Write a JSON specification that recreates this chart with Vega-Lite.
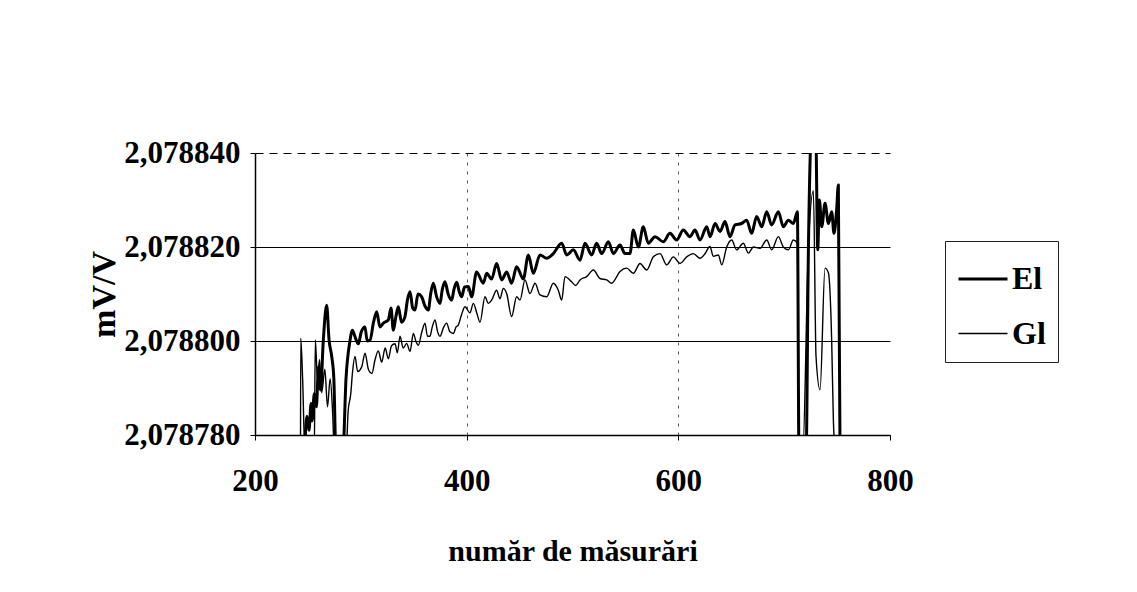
{
  "$schema": "https://vega.github.io/schema/vega-lite/v6.json",
  "autosize": {"type": "none"},
  "width": 635,
  "height": 282,
  "padding": {"left": 255, "top": 153, "right": 247, "bottom": 157},
  "background": "white",
  "data": {
    "values": [
      {"n": 247, "v": 2.078777, "s": "El"},
      {"n": 249, "v": 2.078784, "s": "El"},
      {"n": 251, "v": 2.078781, "s": "El"},
      {"n": 253, "v": 2.0787867, "s": "El"},
      {"n": 254, "v": 2.078783, "s": "El"},
      {"n": 256, "v": 2.0787888, "s": "El"},
      {"n": 258, "v": 2.078786, "s": "El"},
      {"n": 260, "v": 2.0787945, "s": "El"},
      {"n": 262, "v": 2.0787896, "s": "El"},
      {"n": 264.5, "v": 2.0788, "s": "El"},
      {"n": 267.7, "v": 2.0788076, "s": "El"},
      {"n": 270, "v": 2.0788002, "s": "El"},
      {"n": 272.5, "v": 2.0787967, "s": "El"},
      {"n": 274.5, "v": 2.078792, "s": "El"},
      {"n": 276.5, "v": 2.078776, "s": "El"},
      {"n": 283, "v": 2.078776, "s": "El"},
      {"n": 286, "v": 2.078792, "s": "El"},
      {"n": 289.7, "v": 2.0788, "s": "El"},
      {"n": 292, "v": 2.0788023, "s": "El"},
      {"n": 294.5, "v": 2.0788009, "s": "El"},
      {"n": 297.6, "v": 2.0787994, "s": "El"},
      {"n": 300.5, "v": 2.078802, "s": "El"},
      {"n": 303.9, "v": 2.078803, "s": "El"},
      {"n": 306, "v": 2.0788, "s": "El"},
      {"n": 308.7, "v": 2.0788002, "s": "El"},
      {"n": 312, "v": 2.078804, "s": "El"},
      {"n": 315, "v": 2.0788062, "s": "El"},
      {"n": 318, "v": 2.078803, "s": "El"},
      {"n": 321.3, "v": 2.0788038, "s": "El"},
      {"n": 326, "v": 2.0788045, "s": "El"},
      {"n": 328.5, "v": 2.078807, "s": "El"},
      {"n": 330.7, "v": 2.0788023, "s": "El"},
      {"n": 333, "v": 2.078805, "s": "El"},
      {"n": 335.4, "v": 2.0788073, "s": "El"},
      {"n": 338.5, "v": 2.078804, "s": "El"},
      {"n": 341.7, "v": 2.0788052, "s": "El"},
      {"n": 344, "v": 2.0788087, "s": "El"},
      {"n": 346.5, "v": 2.0788105, "s": "El"},
      {"n": 349, "v": 2.078807, "s": "El"},
      {"n": 351.2, "v": 2.0788066, "s": "El"},
      {"n": 354, "v": 2.07881, "s": "El"},
      {"n": 357.5, "v": 2.0788094, "s": "El"},
      {"n": 360.5, "v": 2.0788075, "s": "El"},
      {"n": 363.8, "v": 2.0788066, "s": "El"},
      {"n": 366, "v": 2.07881, "s": "El"},
      {"n": 368.5, "v": 2.0788123, "s": "El"},
      {"n": 371.5, "v": 2.0788095, "s": "El"},
      {"n": 374.8, "v": 2.078808, "s": "El"},
      {"n": 377, "v": 2.078811, "s": "El"},
      {"n": 379.5, "v": 2.0788126, "s": "El"},
      {"n": 382.5, "v": 2.07881, "s": "El"},
      {"n": 385.8, "v": 2.0788087, "s": "El"},
      {"n": 388, "v": 2.078811, "s": "El"},
      {"n": 390.6, "v": 2.0788125, "s": "El"},
      {"n": 393, "v": 2.0788105, "s": "El"},
      {"n": 395.3, "v": 2.0788094, "s": "El"},
      {"n": 398, "v": 2.0788115, "s": "El"},
      {"n": 401.6, "v": 2.0788116, "s": "El"},
      {"n": 404.7, "v": 2.0788094, "s": "El"},
      {"n": 409.4, "v": 2.0788147, "s": "El"},
      {"n": 415.7, "v": 2.0788123, "s": "El"},
      {"n": 418.9, "v": 2.0788144, "s": "El"},
      {"n": 423.6, "v": 2.0788132, "s": "El"},
      {"n": 428.3, "v": 2.0788165, "s": "El"},
      {"n": 433.1, "v": 2.078813, "s": "El"},
      {"n": 437.8, "v": 2.0788147, "s": "El"},
      {"n": 442.5, "v": 2.0788123, "s": "El"},
      {"n": 447.2, "v": 2.0788158, "s": "El"},
      {"n": 453.5, "v": 2.0788132, "s": "El"},
      {"n": 458.3, "v": 2.0788183, "s": "El"},
      {"n": 463, "v": 2.0788144, "s": "El"},
      {"n": 469.3, "v": 2.0788183, "s": "El"},
      {"n": 475.6, "v": 2.0788176, "s": "El"},
      {"n": 481.9, "v": 2.0788186, "s": "El"},
      {"n": 489.8, "v": 2.0788208, "s": "El"},
      {"n": 494.5, "v": 2.0788183, "s": "El"},
      {"n": 500.8, "v": 2.0788194, "s": "El"},
      {"n": 507.1, "v": 2.0788172, "s": "El"},
      {"n": 511.8, "v": 2.0788208, "s": "El"},
      {"n": 518.1, "v": 2.0788183, "s": "El"},
      {"n": 522.8, "v": 2.0788208, "s": "El"},
      {"n": 527.6, "v": 2.0788186, "s": "El"},
      {"n": 533.9, "v": 2.0788211, "s": "El"},
      {"n": 538.6, "v": 2.0788186, "s": "El"},
      {"n": 544.9, "v": 2.0788204, "s": "El"},
      {"n": 549.6, "v": 2.0788186, "s": "El"},
      {"n": 554.3, "v": 2.0788186, "s": "El"},
      {"n": 557.5, "v": 2.0788236, "s": "El"},
      {"n": 562.2, "v": 2.07882, "s": "El"},
      {"n": 566.9, "v": 2.0788243, "s": "El"},
      {"n": 571.6, "v": 2.0788208, "s": "El"},
      {"n": 578, "v": 2.0788222, "s": "El"},
      {"n": 585.8, "v": 2.0788211, "s": "El"},
      {"n": 592.1, "v": 2.0788229, "s": "El"},
      {"n": 598.4, "v": 2.0788215, "s": "El"},
      {"n": 604.7, "v": 2.0788236, "s": "El"},
      {"n": 611, "v": 2.0788222, "s": "El"},
      {"n": 615.7, "v": 2.0788236, "s": "El"},
      {"n": 620.5, "v": 2.0788215, "s": "El"},
      {"n": 626.8, "v": 2.0788243, "s": "El"},
      {"n": 630, "v": 2.0788222, "s": "El"},
      {"n": 634.7, "v": 2.078825, "s": "El"},
      {"n": 639.4, "v": 2.0788233, "s": "El"},
      {"n": 644.1, "v": 2.0788254, "s": "El"},
      {"n": 648.8, "v": 2.0788222, "s": "El"},
      {"n": 653.6, "v": 2.0788247, "s": "El"},
      {"n": 659.9, "v": 2.078825, "s": "El"},
      {"n": 664.6, "v": 2.0788257, "s": "El"},
      {"n": 669.3, "v": 2.0788229, "s": "El"},
      {"n": 674, "v": 2.0788265, "s": "El"},
      {"n": 678.8, "v": 2.0788243, "s": "El"},
      {"n": 683.5, "v": 2.0788275, "s": "El"},
      {"n": 688.2, "v": 2.0788247, "s": "El"},
      {"n": 694.5, "v": 2.0788275, "s": "El"},
      {"n": 699.2, "v": 2.0788243, "s": "El"},
      {"n": 704, "v": 2.0788257, "s": "El"},
      {"n": 708.7, "v": 2.078825, "s": "El"},
      {"n": 712.5, "v": 2.0788275, "s": "El"},
      {"n": 714, "v": 2.078776, "s": "El"},
      {"n": 720.7, "v": 2.078776, "s": "El"},
      {"n": 722.9, "v": 2.0788194, "s": "El"},
      {"n": 726, "v": 2.078845, "s": "El"},
      {"n": 729.8, "v": 2.078845, "s": "El"},
      {"n": 731.7, "v": 2.0788194, "s": "El"},
      {"n": 733.3, "v": 2.07883, "s": "El"},
      {"n": 735.5, "v": 2.0788243, "s": "El"},
      {"n": 738.6, "v": 2.0788293, "s": "El"},
      {"n": 741.8, "v": 2.078825, "s": "El"},
      {"n": 744.9, "v": 2.0788275, "s": "El"},
      {"n": 747.1, "v": 2.0788229, "s": "El"},
      {"n": 749.6, "v": 2.078828, "s": "El"},
      {"n": 751.2, "v": 2.0788332, "s": "El"},
      {"n": 752.8, "v": 2.078776, "s": "El"},

      {"n": 243, "v": 2.078776, "s": "Gl"},
      {"n": 243.2, "v": 2.0788006, "s": "Gl"},
      {"n": 245, "v": 2.078792, "s": "Gl"},
      {"n": 247.2, "v": 2.078776, "s": "Gl"},
      {"n": 256, "v": 2.078776, "s": "Gl"},
      {"n": 257, "v": 2.0788002, "s": "Gl"},
      {"n": 259, "v": 2.078792, "s": "Gl"},
      {"n": 261, "v": 2.078796, "s": "Gl"},
      {"n": 263, "v": 2.078789, "s": "Gl"},
      {"n": 266, "v": 2.078794, "s": "Gl"},
      {"n": 268.5, "v": 2.078786, "s": "Gl"},
      {"n": 271, "v": 2.078792, "s": "Gl"},
      {"n": 273.5, "v": 2.078784, "s": "Gl"},
      {"n": 275, "v": 2.078776, "s": "Gl"},
      {"n": 286, "v": 2.078776, "s": "Gl"},
      {"n": 288, "v": 2.078785, "s": "Gl"},
      {"n": 290.5, "v": 2.0787888, "s": "Gl"},
      {"n": 292, "v": 2.078793, "s": "Gl"},
      {"n": 294.5, "v": 2.0787967, "s": "Gl"},
      {"n": 297, "v": 2.0787935, "s": "Gl"},
      {"n": 300.8, "v": 2.0787945, "s": "Gl"},
      {"n": 304, "v": 2.0787974, "s": "Gl"},
      {"n": 307.1, "v": 2.078794, "s": "Gl"},
      {"n": 310.5, "v": 2.0787931, "s": "Gl"},
      {"n": 313.4, "v": 2.078796, "s": "Gl"},
      {"n": 316.5, "v": 2.0787979, "s": "Gl"},
      {"n": 319.7, "v": 2.0787955, "s": "Gl"},
      {"n": 323, "v": 2.0787985, "s": "Gl"},
      {"n": 326, "v": 2.0787962, "s": "Gl"},
      {"n": 329, "v": 2.078799, "s": "Gl"},
      {"n": 332.3, "v": 2.0787994, "s": "Gl"},
      {"n": 334.5, "v": 2.0787975, "s": "Gl"},
      {"n": 337, "v": 2.078801, "s": "Gl"},
      {"n": 340, "v": 2.0787985, "s": "Gl"},
      {"n": 343.3, "v": 2.0787995, "s": "Gl"},
      {"n": 346.5, "v": 2.0787978, "s": "Gl"},
      {"n": 349.6, "v": 2.0788016, "s": "Gl"},
      {"n": 352, "v": 2.0788, "s": "Gl"},
      {"n": 354.3, "v": 2.0787991, "s": "Gl"},
      {"n": 357.5, "v": 2.0788018, "s": "Gl"},
      {"n": 360.6, "v": 2.0788038, "s": "Gl"},
      {"n": 363, "v": 2.078801, "s": "Gl"},
      {"n": 365.3, "v": 2.078801, "s": "Gl"},
      {"n": 367.5, "v": 2.078803, "s": "Gl"},
      {"n": 370.1, "v": 2.0788045, "s": "Gl"},
      {"n": 372.5, "v": 2.078802, "s": "Gl"},
      {"n": 374.8, "v": 2.078801, "s": "Gl"},
      {"n": 378, "v": 2.0788028, "s": "Gl"},
      {"n": 381.1, "v": 2.0788038, "s": "Gl"},
      {"n": 384, "v": 2.078802, "s": "Gl"},
      {"n": 387.4, "v": 2.0788016, "s": "Gl"},
      {"n": 390, "v": 2.078803, "s": "Gl"},
      {"n": 392.1, "v": 2.0788034, "s": "Gl"},
      {"n": 395, "v": 2.0788055, "s": "Gl"},
      {"n": 398.4, "v": 2.0788073, "s": "Gl"},
      {"n": 403.1, "v": 2.078806, "s": "Gl"},
      {"n": 406.3, "v": 2.078808, "s": "Gl"},
      {"n": 409.5, "v": 2.078806, "s": "Gl"},
      {"n": 412.6, "v": 2.078804, "s": "Gl"},
      {"n": 417.3, "v": 2.0788094, "s": "Gl"},
      {"n": 420.5, "v": 2.078808, "s": "Gl"},
      {"n": 423.6, "v": 2.0788087, "s": "Gl"},
      {"n": 428.3, "v": 2.0788108, "s": "Gl"},
      {"n": 431.5, "v": 2.078809, "s": "Gl"},
      {"n": 434.6, "v": 2.0788112, "s": "Gl"},
      {"n": 437.8, "v": 2.0788101, "s": "Gl"},
      {"n": 442.5, "v": 2.0788052, "s": "Gl"},
      {"n": 447.2, "v": 2.0788094, "s": "Gl"},
      {"n": 450.4, "v": 2.0788087, "s": "Gl"},
      {"n": 455.1, "v": 2.078813, "s": "Gl"},
      {"n": 459.8, "v": 2.0788101, "s": "Gl"},
      {"n": 464.6, "v": 2.0788123, "s": "Gl"},
      {"n": 469.3, "v": 2.0788098, "s": "Gl"},
      {"n": 475.6, "v": 2.0788094, "s": "Gl"},
      {"n": 481.9, "v": 2.0788123, "s": "Gl"},
      {"n": 486.6, "v": 2.0788108, "s": "Gl"},
      {"n": 489.8, "v": 2.0788087, "s": "Gl"},
      {"n": 492.9, "v": 2.0788137, "s": "Gl"},
      {"n": 499.2, "v": 2.0788126, "s": "Gl"},
      {"n": 503, "v": 2.0788118, "s": "Gl"},
      {"n": 507.1, "v": 2.078813, "s": "Gl"},
      {"n": 513.4, "v": 2.0788137, "s": "Gl"},
      {"n": 519.7, "v": 2.0788151, "s": "Gl"},
      {"n": 526, "v": 2.0788133, "s": "Gl"},
      {"n": 532.3, "v": 2.078813, "s": "Gl"},
      {"n": 537, "v": 2.0788123, "s": "Gl"},
      {"n": 544.9, "v": 2.0788148, "s": "Gl"},
      {"n": 551.2, "v": 2.0788155, "s": "Gl"},
      {"n": 557.5, "v": 2.0788144, "s": "Gl"},
      {"n": 563.8, "v": 2.0788165, "s": "Gl"},
      {"n": 570.1, "v": 2.0788151, "s": "Gl"},
      {"n": 576.4, "v": 2.0788179, "s": "Gl"},
      {"n": 582.7, "v": 2.0788186, "s": "Gl"},
      {"n": 589, "v": 2.0788162, "s": "Gl"},
      {"n": 595.3, "v": 2.0788179, "s": "Gl"},
      {"n": 601.6, "v": 2.0788165, "s": "Gl"},
      {"n": 607.9, "v": 2.0788179, "s": "Gl"},
      {"n": 614.2, "v": 2.0788186, "s": "Gl"},
      {"n": 620.5, "v": 2.0788176, "s": "Gl"},
      {"n": 625, "v": 2.0788185, "s": "Gl"},
      {"n": 629.9, "v": 2.0788201, "s": "Gl"},
      {"n": 633, "v": 2.078818, "s": "Gl"},
      {"n": 637.8, "v": 2.0788183, "s": "Gl"},
      {"n": 641, "v": 2.0788162, "s": "Gl"},
      {"n": 645.7, "v": 2.07882, "s": "Gl"},
      {"n": 650.4, "v": 2.0788215, "s": "Gl"},
      {"n": 655.1, "v": 2.0788194, "s": "Gl"},
      {"n": 661.4, "v": 2.0788208, "s": "Gl"},
      {"n": 666.2, "v": 2.0788187, "s": "Gl"},
      {"n": 670.9, "v": 2.07882, "s": "Gl"},
      {"n": 677.2, "v": 2.0788197, "s": "Gl"},
      {"n": 683.5, "v": 2.0788215, "s": "Gl"},
      {"n": 688.2, "v": 2.0788194, "s": "Gl"},
      {"n": 694.5, "v": 2.0788222, "s": "Gl"},
      {"n": 699.2, "v": 2.07882, "s": "Gl"},
      {"n": 704, "v": 2.0788194, "s": "Gl"},
      {"n": 708.7, "v": 2.0788215, "s": "Gl"},
      {"n": 712.5, "v": 2.0788208, "s": "Gl"},
      {"n": 713.7, "v": 2.078776, "s": "Gl"},
      {"n": 717.5, "v": 2.078776, "s": "Gl"},
      {"n": 722.9, "v": 2.07882, "s": "Gl"},
      {"n": 727.6, "v": 2.078832, "s": "Gl"},
      {"n": 730.1, "v": 2.0787967, "s": "Gl"},
      {"n": 733.9, "v": 2.0787896, "s": "Gl"},
      {"n": 738.6, "v": 2.0788155, "s": "Gl"},
      {"n": 741.8, "v": 2.0788145, "s": "Gl"},
      {"n": 744.9, "v": 2.0788, "s": "Gl"},
      {"n": 746.5, "v": 2.0787832, "s": "Gl"},
      {"n": 748.1, "v": 2.078776, "s": "Gl"}
    ]
  },
  "mark": {"type": "line", "clip": true, "color": "black", "interpolate": "monotone", "strokeJoin": "round"},
  "encoding": {
    "x": {
      "field": "n",
      "type": "quantitative",
      "title": "număr de măsurări",
      "scale": {"domain": [200, 800], "nice": false, "zero": false},
      "axis": {
        "values": [200, 400, 600, 800],
        "format": "d",
        "labelFlush": false,
        "labelPadding": 26,
        "titlePadding": 40,
        "grid": true,
        "gridColor": "#555",
        "gridDash": [3, 6],
        "gridWidth": 1,
        "gridOpacity": {"condition": {"test": "datum.value >= 800 || datum.value <= 200", "value": 0}, "value": 1}
      }
    },
    "y": {
      "field": "v",
      "type": "quantitative",
      "title": "mV/V",
      "scale": {"domain": [2.07878, 2.07884], "nice": false, "zero": false},
      "axis": {
        "values": [2.07878, 2.0788, 2.07882, 2.07884],
        "labelExpr": "replace(format(datum.value, '.6f'), '.', ',')",
        "labelPadding": 10,
        "titlePadding": 2,
        "titleFontSize": 34,
        "grid": true,
        "gridColor": "black",
        "gridWidth": 1,
        "gridDash": {"condition": {"test": "datum.value > 2.07883", "value": [8, 6]}, "value": []}
      }
    },
    "detail": {"field": "s", "type": "nominal"},
    "strokeWidth": {
      "field": "s",
      "type": "ordinal",
      "scale": {"domain": ["El", "Gl"], "range": [3, 1.4]},
      "legend": {
        "title": null,
        "orient": "none",
        "legendX": 690,
        "legendY": 88,
        "padding": 12,
        "rowPadding": 13,
        "symbolType": "stroke",
        "symbolSize": 2400,
        "symbolStrokeColor": "black",
        "labelOffset": 3,
        "labelFontSize": 32,
        "labelFont": "Liberation Serif",
        "labelFontWeight": "bold",
        "labelColor": "black",
        "strokeColor": "#222"
      }
    }
  },
  "config": {
    "view": {"stroke": null},
    "axis": {
      "domainColor": "black",
      "domainWidth": 1.5,
      "tickColor": "black",
      "tickSize": 5,
      "labelFont": "Liberation Serif",
      "labelFontWeight": "bold",
      "labelFontSize": 31,
      "labelColor": "black",
      "titleFont": "Liberation Serif",
      "titleFontWeight": "bold",
      "titleFontSize": 30,
      "titleColor": "black"
    }
  }
}
